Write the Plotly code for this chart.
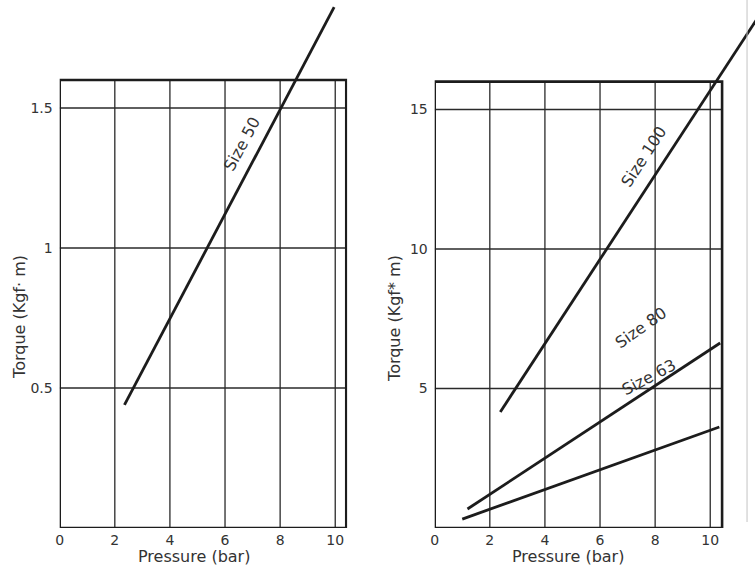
import plotly.graph_objects as go

# ---- data ----
pressure_ticks = [0, 2, 4, 6, 8, 10]
left_torque_ticks = [0.5, 1, 1.5]
left_torque_labels = ["0.5", "1", "1.5"]
right_torque_ticks = [5, 10, 15]
right_torque_labels = ["5", "10", "15"]

size50_pressure = [2.35, 9.96]
size50_torque = [0.44, 1.86]

size100_pressure = [2.38, 11.8]
size100_torque = [4.16, 18.4]
size80_pressure = [1.19, 10.36]
size80_torque = [0.68, 6.63]
size63_pressure = [1.0, 10.33]
size63_torque = [0.32, 3.62]

left_box = (10.4, 1.6)    # frame extent (pressure, torque)
right_box = (10.43, 16.0)

W, H = 755, 569
FONT = "DejaVu Sans, Verdana, sans-serif"
INK = "#1c1c1c"
TXT = "#333333"

def px_x(p):
    return p / W

def px_y(p):
    return 1 - p / H

fig = go.Figure()

line_style = dict(color=INK, width=2.8)
fig.add_trace(go.Scatter(x=size50_pressure, y=size50_torque, mode="lines",
                         line=line_style, name="Size 50", xaxis="x", yaxis="y"))
fig.add_trace(go.Scatter(x=size100_pressure, y=size100_torque, mode="lines",
                         line=line_style, name="Size 100", xaxis="x2", yaxis="y2"))
fig.add_trace(go.Scatter(x=size80_pressure, y=size80_torque, mode="lines",
                         line=line_style, name="Size 80", xaxis="x2", yaxis="y2"))
fig.add_trace(go.Scatter(x=size63_pressure, y=size63_torque, mode="lines",
                         line=line_style, name="Size 63", xaxis="x2", yaxis="y2"))

shapes = []
grid = dict(color="#2a2a2a", width=1.3)
for xr, yr, box, yt in [("x", "y", left_box, left_torque_ticks),
                        ("x2", "y2", right_box, right_torque_ticks)]:
    for t in pressure_ticks[1:]:
        shapes.append(dict(type="line", xref=xr, yref=yr, x0=t, x1=t,
                           y0=0, y1=box[1], line=grid, layer="below"))
    for t in yt:
        shapes.append(dict(type="line", xref=xr, yref=yr, x0=0, x1=box[0],
                           y0=t, y1=t, line=grid, layer="below"))
    shapes.append(dict(type="rect", xref=xr, yref=yr, x0=0, x1=box[0],
                       y0=0, y1=box[1], line=dict(color=INK, width=2.6),
                       layer="below"))
# thin page border line at the right
shapes.append(dict(type="line", xref="paper", yref="paper", x0=px_x(747), x1=px_x(747),
                   y0=px_y(522), y1=1, line=dict(color="#c4c4c4", width=1)))

tickfont = dict(family=FONT, size=14, color=TXT)
axis_common = dict(showgrid=False, zeroline=False, showline=False, ticks="",
                   tickfont=tickfont, fixedrange=True)

left_x_domain = [px_x(56), px_x(345)]
right_x_domain = [px_x(433), 1.0]
y_domain = [px_y(528), 1.0]

layout = dict(
    width=W, height=H,
    margin=dict(l=0, r=0, t=0, b=0),
    paper_bgcolor="white", plot_bgcolor="white",
    showlegend=False,
    font=dict(family=FONT, color=TXT),
    xaxis=dict(domain=left_x_domain, range=[0, (345 - 56) / 27.7],
               tickvals=pressure_ticks, anchor="y", ticklabelstandoff=2, **axis_common),
    yaxis=dict(domain=y_domain, range=[0, 528 / 280.0],
               tickvals=left_torque_ticks, ticktext=left_torque_labels,
               anchor="x", ticklabelstandoff=6, **axis_common),
    xaxis2=dict(domain=right_x_domain, range=[0, (755 - 433) / 27.7],
                tickvals=pressure_ticks, anchor="y2", ticklabelstandoff=2, **axis_common),
    yaxis2=dict(domain=y_domain, range=[0, 528 / 27.9],
                tickvals=right_torque_ticks, ticktext=right_torque_labels,
                anchor="x2", ticklabelstandoff=6, **axis_common),
    shapes=shapes,
)

titlefont = dict(family=FONT, size=16, color=TXT)
labelfont = dict(family=FONT, size=16, color=TXT)
annotations = [
    dict(text="Pressure (bar)", xref="paper", yref="paper", x=px_x(191), y=px_y(556),
         showarrow=False, font=titlefont, xanchor="center", yanchor="middle"),
    dict(text="Pressure (bar)", xref="paper", yref="paper", x=px_x(567), y=px_y(556),
         showarrow=False, font=titlefont, xanchor="center", yanchor="middle"),
    dict(text="Torque (Kgf· m)", xref="paper", yref="paper", x=px_x(15), y=px_y(317),
         showarrow=False, font=titlefont, textangle=-90, xanchor="center", yanchor="middle"),
    dict(text="Torque (Kgf* m)", xref="paper", yref="paper", x=px_x(392), y=px_y(318),
         showarrow=False, font=titlefont, textangle=-90, xanchor="center", yanchor="middle"),
    dict(text="Size 50", xref="x", yref="y", x=6.6, y=1.37, showarrow=False,
         font=labelfont, textangle=-62, xanchor="center", yanchor="middle"),
    dict(text="Size 100", xref="x2", yref="y2", x=7.6, y=13.3, showarrow=False,
         font=labelfont, textangle=-57, xanchor="center", yanchor="middle"),
    dict(text="Size 80", xref="x2", yref="y2", x=7.5, y=7.17, showarrow=False,
         font=labelfont, textangle=-35, xanchor="center", yanchor="middle"),
    dict(text="Size 63", xref="x2", yref="y2", x=7.76, y=5.38, showarrow=False,
         font=labelfont, textangle=-28, xanchor="center", yanchor="middle"),
]
layout["annotations"] = annotations

fig.update_layout(**layout)
fig.write_html("out.html",
               config={"displayModeBar": False, "staticPlot": True},
               post_script="document.body.style.margin='0';document.body.style.overflow='hidden';")
